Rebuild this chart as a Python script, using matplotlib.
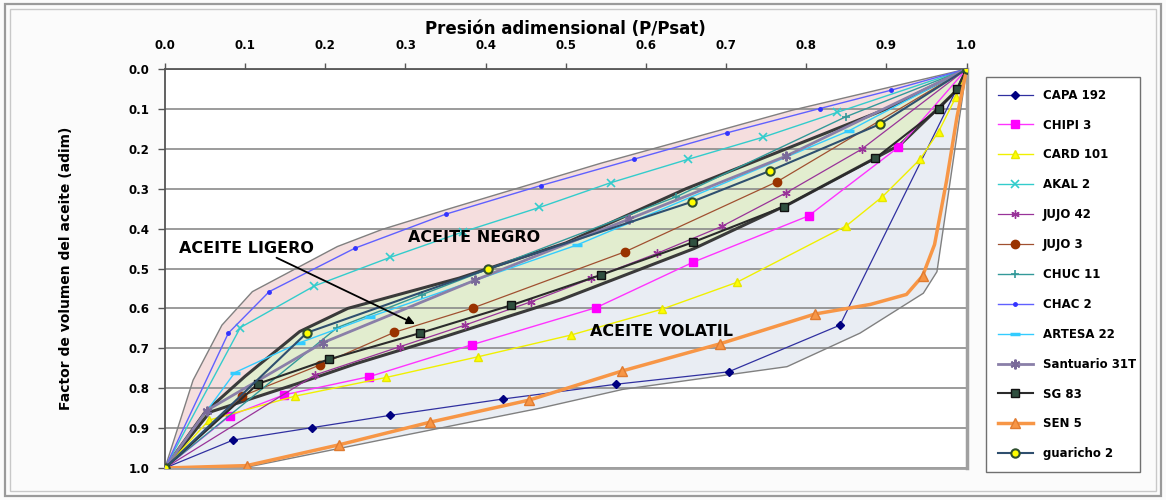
import matplotlib
matplotlib.use("Agg")
import matplotlib.pyplot as plt
from matplotlib.patches import Rectangle

# --- data (x = P/Psat, y = Bo adimensional) ---
capa192_x = [0.0, 0.085, 0.183, 0.281, 0.422, 0.563, 0.703, 0.842, 1.0]
capa192_y = [1.0, 0.930, 0.899, 0.868, 0.827, 0.790, 0.759, 0.642, 0.0]

chipi3_x = [0.0, 0.081, 0.148, 0.255, 0.383, 0.538, 0.659, 0.803, 0.915, 1.0]
chipi3_y = [1.0, 0.869, 0.817, 0.771, 0.691, 0.598, 0.484, 0.368, 0.196, 0.0]

card101_x = [0.0, 0.055, 0.162, 0.276, 0.391, 0.506, 0.620, 0.713, 0.850, 0.895, 0.942, 0.965, 0.987, 1.0]
card101_y = [1.0, 0.880, 0.820, 0.773, 0.721, 0.667, 0.602, 0.535, 0.393, 0.320, 0.226, 0.157, 0.069, 0.0]

akal2_x = [0.0, 0.094, 0.186, 0.281, 0.372, 0.467, 0.556, 0.653, 0.746, 0.838, 1.0]
akal2_y = [1.0, 0.648, 0.544, 0.472, 0.408, 0.347, 0.285, 0.226, 0.171, 0.109, 0.0]

jujo42_x = [0.0, 0.187, 0.293, 0.374, 0.457, 0.532, 0.614, 0.695, 0.775, 0.869, 1.0]
jujo42_y = [1.0, 0.767, 0.696, 0.642, 0.583, 0.525, 0.462, 0.394, 0.310, 0.201, 0.0]

jujo3_x = [0.0, 0.096, 0.193, 0.286, 0.384, 0.574, 0.764, 1.0]
jujo3_y = [1.0, 0.820, 0.742, 0.660, 0.599, 0.458, 0.282, 0.0]

chuc11_x = [0.0, 0.215, 0.320, 0.638, 0.849, 1.0]
chuc11_y = [1.0, 0.648, 0.566, 0.320, 0.120, 0.0]

chac2_x = [0.0, 0.079, 0.130, 0.237, 0.350, 0.469, 0.585, 0.701, 0.817, 0.906, 1.0]
chac2_y = [1.0, 0.662, 0.558, 0.449, 0.364, 0.292, 0.226, 0.160, 0.099, 0.053, 0.0]

artesa22_x = [0.0, 0.087, 0.168, 0.256, 0.514, 0.853, 1.0]
artesa22_y = [1.0, 0.761, 0.686, 0.621, 0.441, 0.155, 0.0]

santuario31t_x = [0.0, 0.052, 0.197, 0.387, 0.579, 0.775, 1.0]
santuario31t_y = [1.0, 0.856, 0.686, 0.529, 0.376, 0.218, 0.0]

sg83_x = [0.0, 0.116, 0.204, 0.318, 0.432, 0.544, 0.659, 0.772, 0.886, 0.966, 0.988, 1.0]
sg83_y = [1.0, 0.789, 0.728, 0.662, 0.592, 0.516, 0.434, 0.345, 0.224, 0.099, 0.051, 0.0]

sen5_x = [0.0, 0.102, 0.217, 0.331, 0.454, 0.570, 0.692, 0.811, 0.880, 0.925, 0.945, 0.960, 0.975, 0.988, 1.0]
sen5_y = [1.0, 0.994, 0.942, 0.885, 0.830, 0.757, 0.689, 0.614, 0.590, 0.565, 0.519, 0.44, 0.28, 0.12, 0.0]
sen5_marks = [0, 1, 2, 3, 4, 5, 6, 7, 10]

guaricho2_x = [0.0, 0.177, 0.403, 0.657, 0.755, 0.892, 1.0]
guaricho2_y = [1.0, 0.661, 0.501, 0.333, 0.255, 0.138, 0.0]

# envelopes of the three oil regions
negro_top_x = [0.0, 0.035, 0.071, 0.109, 0.215, 0.271, 0.350, 0.544, 0.783, 1.0]
negro_top_y = [1.0, 0.780, 0.642, 0.558, 0.445, 0.402, 0.353, 0.236, 0.103, 0.0]

ligero_top_x = [0.0, 0.050, 0.100, 0.168, 0.228, 0.367, 0.500, 0.650, 0.800, 0.900, 1.0]
ligero_top_y = [1.0, 0.860, 0.770, 0.658, 0.600, 0.524, 0.436, 0.300, 0.180, 0.100, 0.0]

ligero_bot_x = [0.0, 0.056, 0.169, 0.239, 0.350, 0.493, 0.660, 0.780, 0.917, 0.988, 1.0]
ligero_bot_y = [1.0, 0.860, 0.786, 0.738, 0.670, 0.579, 0.450, 0.337, 0.190, 0.053, 0.0]

volatil_bot_x = [0.0, 0.102, 0.291, 0.468, 0.571, 0.776, 0.867, 0.946, 0.963, 1.0]
volatil_bot_y = [1.0, 0.998, 0.921, 0.850, 0.803, 0.746, 0.662, 0.562, 0.508, 0.0]

x_ticks = [0.0, 0.1, 0.2, 0.3, 0.4, 0.5, 0.6, 0.7, 0.8, 0.9, 1.0]
y_ticks = [0.0, 0.1, 0.2, 0.3, 0.4, 0.5, 0.6, 0.7, 0.8, 0.9, 1.0]

plt.rcParams['font.family'] = ['DejaVu Sans']
plt.rcParams['font.weight'] = 'bold'

fig = plt.figure(figsize=(11.66, 5.0), dpi=100)
fig.patch.set_facecolor('#fbfbfb')

# outer double frame
fig.patches.append(Rectangle((0.004, 0.008), 0.992, 0.984, transform=fig.transFigure,
                             fill=False, edgecolor='#9a9a9a', lw=1.6))
fig.patches.append(Rectangle((0.009, 0.018), 0.982, 0.964, transform=fig.transFigure,
                             fill=False, edgecolor='#c8c8c8', lw=1.0))

ax = fig.add_axes([0.1415, 0.064, 0.6875, 0.798])
ax.set_facecolor('white')

# shaded regions
ax.fill(negro_top_x + ligero_top_x[::-1], negro_top_y + ligero_top_y[::-1],
        color='#f5dede', lw=0, zorder=0.5)
ax.fill(ligero_top_x + ligero_bot_x[::-1], ligero_top_y + ligero_bot_y[::-1],
        color='#e2edcf', lw=0, zorder=0.5)
ax.fill(ligero_bot_x + volatil_bot_x[::-1], ligero_bot_y + volatil_bot_y[::-1],
        color='#e9edf3', lw=0, zorder=0.5)

ax.plot(negro_top_x, negro_top_y, color='#808080', lw=1.0, zorder=1)
ax.plot(volatil_bot_x, volatil_bot_y, color='#808080', lw=1.0, zorder=1)
ax.plot(ligero_top_x, ligero_top_y, color='#3a3a3a', lw=2.2, zorder=1)
ax.plot(ligero_bot_x, ligero_bot_y, color='#3a3a3a', lw=2.2, zorder=1)

# series
ax.plot(capa192_x, capa192_y, color='#3030a0', lw=0.9, marker='D', ms=4,
        mfc='#000080', mec='#000080', label='CAPA 192', zorder=3)
ax.plot(chipi3_x, chipi3_y, color='#ff33ff', lw=1.0, marker='s', ms=6,
        mfc='#ff00ff', mec='#ff00ff', label='CHIPI 3', zorder=3)
ax.plot(card101_x, card101_y, color='#f0f000', lw=1.0, marker='^', ms=6,
        mfc='#ffff00', mec='#e6e600', label='CARD 101', zorder=3)
ax.plot(akal2_x, akal2_y, color='#33cccc', lw=1.0, marker='x', ms=6,
        mew=1.2, label='AKAL 2', zorder=3)
ax.plot(jujo42_x, jujo42_y, color='#993399', lw=0.9, marker=(6, 2, 0), ms=6,
        mew=1.0, label='JUJO 42', zorder=3)
ax.plot(jujo3_x, jujo3_y, color='#a05030', lw=0.9, marker='o', ms=6,
        mfc='#993300', mec='#993300', label='JUJO 3', zorder=3)
ax.plot(chuc11_x, chuc11_y, color='#339999', lw=1.0, marker='+', ms=6,
        mew=1.2, label='CHUC 11', zorder=3)
ax.plot(chac2_x, chac2_y, color='#6060ff', lw=1.0, marker='o', ms=2.5,
        mfc='#3333ff', mec='#3333ff', label='CHAC 2', zorder=3)
ax.plot(artesa22_x, artesa22_y, color='#33ccff', lw=1.0, marker='_', ms=7,
        mew=2.5, label='ARTESA 22', zorder=3)
ax.plot(santuario31t_x, santuario31t_y, color='#8a7fa8', lw=2.0, marker=(6, 2, 0),
        ms=7, mew=1.5, mec='#7a6a9a', label='Santuario 31T', zorder=3)
ax.plot(sg83_x, sg83_y, color='#2b2b2b', lw=1.5, marker='s', ms=6,
        mfc='#2f4f3f', mec='#111111', label='SG 83', zorder=3)
ax.plot(sen5_x, sen5_y, color='#f79646', lw=2.5, marker='^', ms=7,
        markevery=sen5_marks, mfc='#f79646', mec='#e07b30', label='SEN 5', zorder=4)
ax.plot(guaricho2_x, guaricho2_y, color='#2f4f6f', lw=1.5, marker='o', ms=6,
        mfc='#ffff00', mec='#2f4f2f', mew=1.5, label='guaricho 2', zorder=4)

# region labels
ax.text(0.386, 0.422, 'ACEITE NEGRO', ha='center', va='center', fontsize=11.5,
        fontweight='bold', zorder=6)
ax.text(0.101, 0.449, 'ACEITE LIGERO', ha='center', va='center', fontsize=11.5,
        fontweight='bold', zorder=6)
ax.text(0.619, 0.659, 'ACEITE VOLATIL', ha='center', va='center', fontsize=11.5,
        fontweight='bold', zorder=6)
ax.annotate('', xy=(0.315, 0.642), xytext=(0.136, 0.470),
            arrowprops=dict(arrowstyle='-|>', color='black', lw=1.3, mutation_scale=12),
            zorder=6)

# axes
ax.set_xlim(0, 1.0)
ax.set_ylim(1.0, 0.0)
ax.xaxis.tick_top()
ax.xaxis.set_label_position('top')
ax.set_xticks(x_ticks)
ax.set_yticks(y_ticks)
ax.set_xticklabels(['%.1f' % v for v in x_ticks], fontsize=8.5, fontweight='bold')
ax.set_yticklabels(['%.1f' % v for v in y_ticks], fontsize=8.5, fontweight='bold')
ax.tick_params(axis='x', direction='out', length=4, width=1, color='#555555', pad=8)
ax.tick_params(axis='y', direction='out', length=5, width=1, color='#555555', pad=6)
ax.yaxis.grid(True, color='#8a8a8a', lw=1.2)
ax.set_axisbelow(True)
ax.set_xlabel('Presión adimensional (P/Psat)', fontsize=12, fontweight='bold', labelpad=4)
ax.set_ylabel('Factor de volumen del aceite (adim)', fontsize=10, fontweight='bold', labelpad=40)
for side in ['left', 'top']:
    ax.spines[side].set_color('#555555')
    ax.spines[side].set_linewidth(1.3)
ax.spines['right'].set_color('#a0a0a0')
ax.spines['right'].set_linewidth(2.5)
ax.spines['bottom'].set_color('#a0a0a0')
ax.spines['bottom'].set_linewidth(2.0)

leg = fig.legend(loc='upper left', bbox_to_anchor=(980 / 1166, 1 - 76 / 500, 166 / 1166, 0.01),
                 mode='expand', prop={'size': 8.5, 'weight': 'bold'}, labelspacing=1.43,
                 handlelength=3.0, borderpad=1.0, fancybox=False, framealpha=1.0,
                 edgecolor='#707070')
leg.get_frame().set_linewidth(1.0)

fig.savefig('out.png', dpi=100, facecolor=fig.get_facecolor())
